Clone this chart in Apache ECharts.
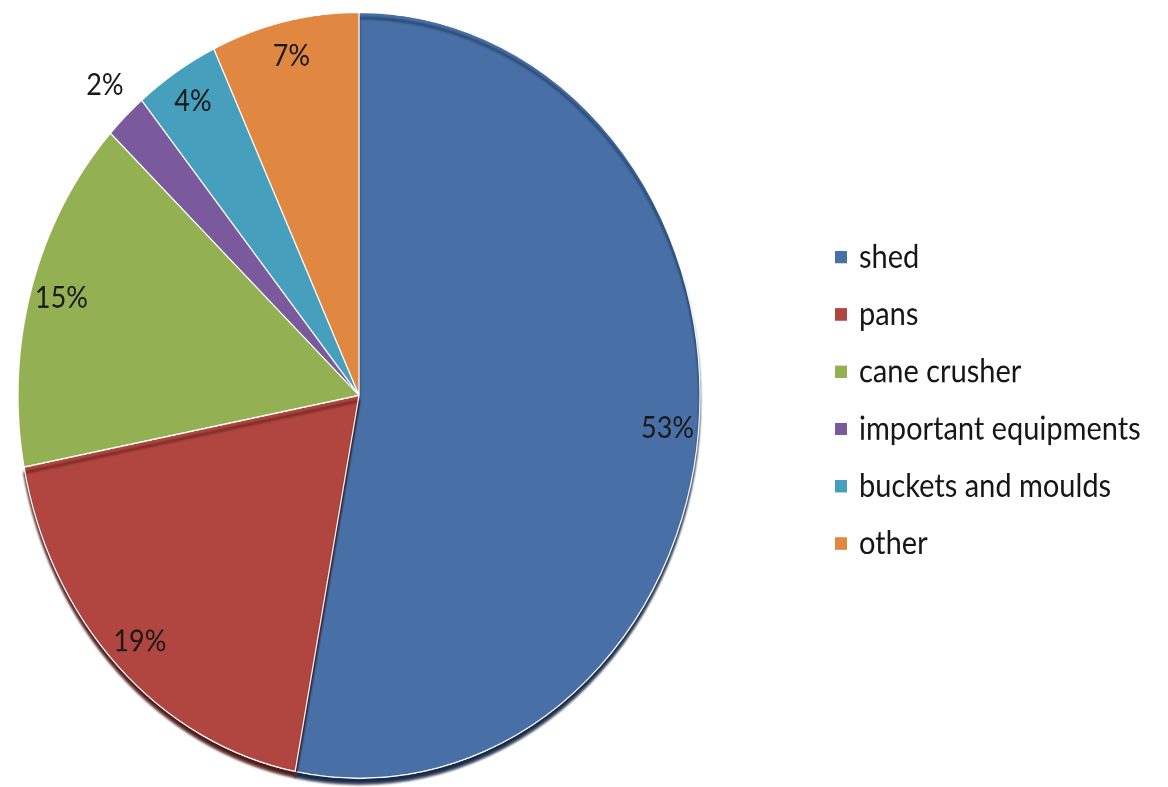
<!DOCTYPE html>
<html>
<head>
<meta charset="utf-8">
<style>
  html, body { margin: 0; padding: 0; background: #ffffff; width: 1168px; height: 787px; }
  #wrap { width: 1168px; height: 787px; overflow: hidden; }
  /* the chart is drawn round, then stretched vertically into an oval */
  #chart { width: 1168px; height: 701px; transform: scaleY(1.123); transform-origin: 0 0; }
</style>
<script src="https://cdn.jsdelivr.net/npm/echarts@6/dist/echarts.min.js"></script>
</head>
<body>
<div id="wrap"><div id="chart"></div></div>
<script>
const categories = ['shed', 'pans', 'cane crusher', 'important equipments', 'buckets and moulds', 'other'];
const shares = [53, 19, 15, 2, 4, 7];
const colors = ['#4870a6', '#b0463f', '#93b052', '#7a5a9c', '#46a0bd', '#e08842'];

const FONT = 'Lato, "Open Sans", sans-serif';
const center = [359, 352];
const R = 341;

const chart = echarts.init(document.getElementById('chart'), null, { devicePixelRatio: 2 });

// visible slices; the two lower slices carry a dark rim along the bottom
const sliceData = categories.map((name, i) => ({
  name,
  value: shares[i],
  itemStyle: i < 2 ? {
    shadowColor: i === 0 ? 'rgba(14, 32, 62, 0.95)' : 'rgba(70, 16, 14, 0.95)',
    shadowBlur: 2,
    shadowOffsetX: 0,
    shadowOffsetY: 5
  } : {}
}));

// transparent ring used only to place the percentage labels near the rim
const labelData = categories.map((name, i) => ({
  name,
  value: shares[i],
  label: i === 3 ? { position: 'outside' } : {},
  labelLine: i === 3 ? { show: false, length: 38, length2: -29 } : { show: false }
}));

chart.setOption({
  animation: false,
  color: colors,
  legend: {
    orient: 'vertical',
    left: 833,
    top: 214,
    padding: 0,
    itemWidth: 14,
    itemHeight: 13,
    itemGap: 21,
    icon: 'rect',
    selectedMode: false,
    data: categories,
    textStyle: {
      fontFamily: FONT,
      fontSize: 29,
      color: '#161616',
      lineHeight: 30,
      padding: [0, 0, 0, 6]
    }
  },
  series: [
    {
      type: 'pie',
      center: center,
      radius: [0, R],
      startAngle: 90,
      clockwise: true,
      avoidLabelOverlap: false,
      label: { show: false },
      labelLine: { show: false },
      itemStyle: { borderColor: '#ffffff', borderWidth: 1.2 },
      emphasis: { disabled: true },
      data: sliceData,
      z: 1
    },
    {
      type: 'pie',
      center: center,
      radius: [R * 0.8, R],
      startAngle: 90,
      clockwise: true,
      avoidLabelOverlap: false,
      silent: true,
      itemStyle: { color: 'rgba(0,0,0,0)', borderWidth: 0 },
      label: {
        show: true,
        position: 'inside',
        formatter: '{c}%',
        fontFamily: FONT,
        fontSize: 27,
        color: '#1a1a1a'
      },
      emphasis: { disabled: true },
      data: labelData,
      z: 2
    }
  ]
});
</script>
</body>
</html>
